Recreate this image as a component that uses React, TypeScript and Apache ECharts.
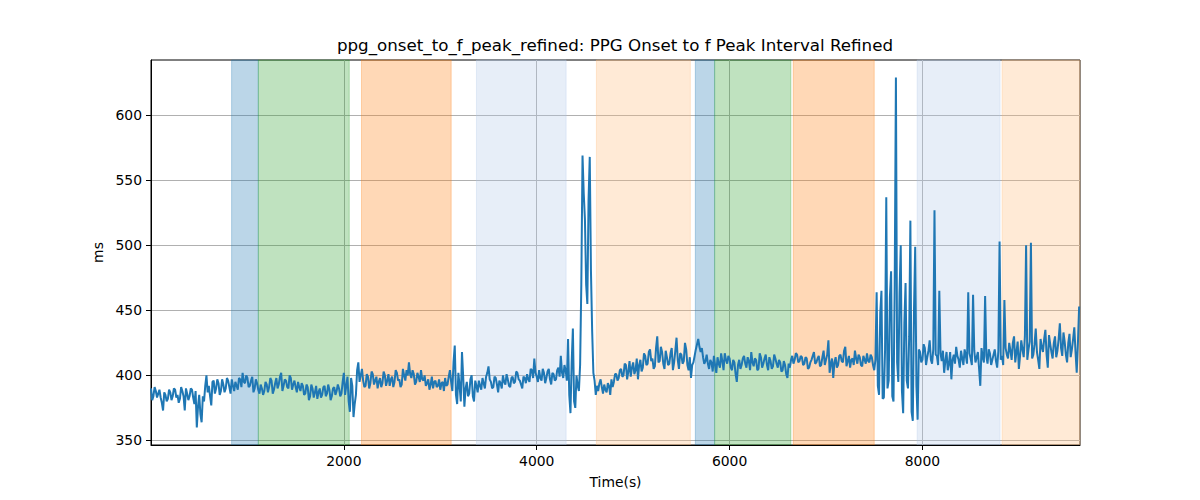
import React, { useEffect, useRef } from "react";
import * as echarts from "echarts";

const STEP = 25;
// series values (ms) at 0, 25, 50 ... s
const seg0to1000 = [390,384,388,386,383,373,385,382,387,384,389,385,382,388,373,386,384,389,378,360,385,364,380,400,392,377,396,390,394,388,393,390,396,386,392,395,389,397,402,394,398];
const seg1025to2200 = [392,399,390,394,386,390,388,393,391,396,389,398,393,402,392,396,390,398,393,391,395,388,392,386,391,384,390,387,382,390,385,392,386,389,384,391,388,390,386,402,392,380,398,368,385,410,400,396];
const seg2225to3375 = [392,399,394,401,396,390,398,394,400,396,392,399,395,402,397,393,400,404,410,398,401,395,399,404,396,392,397,393,390,396,392,389,395,398,393,404,388,423,378,392,418,376,395,386,400,380,392];
const seg3400to4300 = [396,389,394,399,407,395,391,398,387,394,400,393,397,391,399,395,402,396,390,398,401,395,404,413,399,404,396,402,398,405,393,401,397,406,415,398,404];
const seg4325to4600 = [428,371,436,375,392,408,569,520,455,568,434,396];
const seg4625to5600 = [392,394,391,393,387,392,397,395,401,398,405,400,408,403,399,410,404,397,412,406,415,409,420,413,407,430,411,418,405,414,409,421,410,429,405,416,411,420,404,398];
const seg5625to5850 = [410,420,428,418,414,411,409,412,403,408];
const seg5875to6625 = [414,406,411,417,409,413,404,410,395,412,408,415,406,411,418,407,412,405,414,409,416,404,411,407,413,406,410,404,408,398,406];
const seg6650to7500 = [415,412,416,411,414,409,413,406,412,418,410,415,408,419,412,427,409,398,414,408,416,410,422,411,406,413,419,409,414,407,412,417,410,414,404];
const seg7525to7950 = [464,385,465,383,537,396,480,380,629,395,500,371,471,390,519,365,499,366];
const seg7975to9625 = [418,412,421,414,427,409,527,415,465,411,402,418,409,397,416,422,412,419,408,415,464,413,462,410,418,392,414,461,409,417,412,420,406,503,415,458,416,425,412,430,418,405,427,414,500,420,502,416,436,412,428,418,435,406,424,413,430,419,440,415,426,410,432,420,437,402,453];

// series values (ms) at the half steps 12.5, 37.5, 62.5 ... s
const mid0to1000 = [381,391,383,389,379,387,380,389,381,390,383,379,391,384,390,381,390,383,388,376,370,384,392,387,384,395,386,397,385,397,387,398,391,397,388,392,398,391,395,400,391];
const mid1025to2200 = [396,387,397,389,393,385,395,387,398,386,394,390,399,388,397,391,400,389,396,387,391,394,385,393,381,393,383,392,387,383,391,384,393,381,390,385,393,384,395,385,399,372,392,378,404,395,405,391];
const mid2225to3375 = [401,390,403,393,399,395,391,403,392,401,397,391,404,396,391,405,396,400,401,404,393,402,395,397,400,394,389,399,395,391,397,394,388,392,399,395,410,385,402,380,399,390,384,397,384,396,387];
const mid3400to4300 = [392,398,390,402,397,390,399,393,396,390,395,401,392,398,394,403,397,393,399,394,397,405,398,402,395,398,405,394,403,397,402,396,404,399,402,408,396];
const mid4325to4600 = [385,410,380,400,388,470,540,470,535,480,402,385];
const mid4625to5600 = [388,397,386,389,394,385,391,401,396,404,399,409,397,411,406,401,413,408,403,417,408,418,411,405,421,410,422,409,419,408,417,404,419,412,417,409,425,408,414,408];
const mid5625to5850 = [415,424,422,421,409,416,405,410,415,402];
const mid5875to6625 = [409,417,404,412,415,406,412,401,408,405,413,409,414,404,410,413,404,417,406,413,408,414,405,416,409,412,403,411,401,409,412];
const mid6650to7500 = [409,417,410,415,408,414,405,410,415,409,413,407,414,408,416,402,413,410,406,415,411,419,407,415,412,408,413,416,408,415,409,411,416,408,412];
const mid7525to7950 = [392,448,382,420,390,460,384,470,410,463,388,440,396,430,372,450,392,420];
const mid7975to9600 = [410,424,408,419,412,420,416,408,417,419,411,404,418,412,409,415,406,413,420,409,417,408,419,414,405,421,410,415,420,408,416,411,419,412,408,421,413,419,425,410,426,415,420,430,412,426,413,424,418,405,422,428,416,431,418,425,414,428,421,433,416,425,414,428,418,425];

const bandStarts = [836, 1113, 2183, 3375, 4619, 5645, 5845, 6660, 7945, 8826];
const bandEnds = [1113, 2056, 3113, 4305, 5593, 5845, 6636, 7500, 8805, 9634];
const bandColors = [
  "rgba(31,119,180,0.3)",
  "rgba(44,160,44,0.3)",
  "rgba(255,127,14,0.3)",
  "rgba(174,199,232,0.3)",
  "rgba(255,187,120,0.3)",
  "rgba(31,119,180,0.3)",
  "rgba(44,160,44,0.3)",
  "rgba(255,127,14,0.3)",
  "rgba(174,199,232,0.3)",
  "rgba(255,187,120,0.3)",
];

const xTicks = [2000, 4000, 6000, 8000];
const yTicks = [350, 400, 450, 500, 550, 600];
const X_MIN = 0;
const X_MAX = 9634;
const Y_MIN = 346.5;
const Y_MAX = 642.5;

const FONT = "DejaVu Sans";

export default function App() {
  const ref = useRef<HTMLDivElement>(null);
  useEffect(() => {
    if (!ref.current) return;
    const chart = echarts.init(ref.current, null, { renderer: "svg" });
    const mains = [
      ...seg0to1000, ...seg1025to2200, ...seg2225to3375, ...seg3400to4300,
      ...seg4325to4600, ...seg4625to5600, ...seg5625to5850, ...seg5875to6625,
      ...seg6650to7500, ...seg7525to7950, ...seg7975to9625,
    ];
    const mids = [
      ...mid0to1000, ...mid1025to2200, ...mid2225to3375, ...mid3400to4300,
      ...mid4325to4600, ...mid4625to5600, ...mid5625to5850, ...mid5875to6625,
      ...mid6650to7500, ...mid7525to7950, ...mid7975to9600,
    ];
    const data: number[][] = [];
    mains.forEach((v, i) => {
      data.push([i * STEP, v]);
      if (i < mids.length) data.push([i * STEP + STEP / 2, mids[i]]);
    });
    const areas = bandStarts.map((s, i) => [
      { xAxis: s, itemStyle: { color: bandColors[i], borderColor: bandColors[i], borderWidth: 1 } },
      { xAxis: bandEnds[i] },
    ]);
    chart.setOption({
      animation: false,
      backgroundColor: "#ffffff",
      textStyle: { fontFamily: FONT },
      title: {
        text: "ppg_onset_to_f_peak_refined: PPG Onset to f Peak Interval Refined",
        left: 615,
        top: 36,
        textAlign: "center",
        padding: 0,
        textStyle: { fontFamily: FONT, fontSize: 16.7, fontWeight: "normal", color: "#000" },
      },
      grid: {
        left: 151,
        right: 120,
        top: 60,
        bottom: 55,
        show: true,
        borderColor: "#000",
        borderWidth: 1,
        backgroundColor: "transparent",
      },
      xAxis: {
        type: "value",
        min: X_MIN,
        max: X_MAX,
        name: "Time(s)",
        nameLocation: "middle",
        nameGap: 30,
        nameTextStyle: { fontFamily: FONT, fontSize: 13.9, color: "#000" },
        axisLine: { show: true, lineStyle: { color: "#000", width: 1 } },
        axisTick: { show: true, customValues: xTicks, length: 5, lineStyle: { color: "#000" } },
        axisLabel: {
          customValues: xTicks,
          margin: 9,
          fontFamily: FONT,
          fontSize: 13.9,
          color: "#000",
          formatter: (v: number) => String(v),
        },
        splitLine: { show: true, lineStyle: { color: "#b0b0b0", width: 1 } },
        z: 1,
      },
      yAxis: {
        type: "value",
        min: Y_MIN,
        max: Y_MAX,
        name: "ms",
        nameLocation: "middle",
        nameGap: 40,
        nameTextStyle: { fontFamily: FONT, fontSize: 13.9, color: "#000" },
        axisLine: { show: true, lineStyle: { color: "#000", width: 1 } },
        axisTick: { show: true, customValues: yTicks, length: 5, lineStyle: { color: "#000" } },
        axisLabel: {
          customValues: yTicks,
          margin: 9,
          fontFamily: FONT,
          fontSize: 13.9,
          color: "#000",
          formatter: (v: number) => String(v),
        },
        splitLine: { show: true, lineStyle: { color: "#b0b0b0", width: 1 } },
        z: 1,
      },
      series: [
        {
          type: "line",
          data: [],
          z: -1,
          silent: true,
          markArea: { silent: true, data: areas },
        },
        {
          type: "line",
          data,
          z: 3,
          symbol: "none",
          lineStyle: { color: "#1f77b4", width: 2 },
        },
      ],
    });
    return () => chart.dispose();
  }, []);
  return <div ref={ref} style={{ position: "fixed", left: 0, top: 0, width: 1200, height: 500 }} />;
}
